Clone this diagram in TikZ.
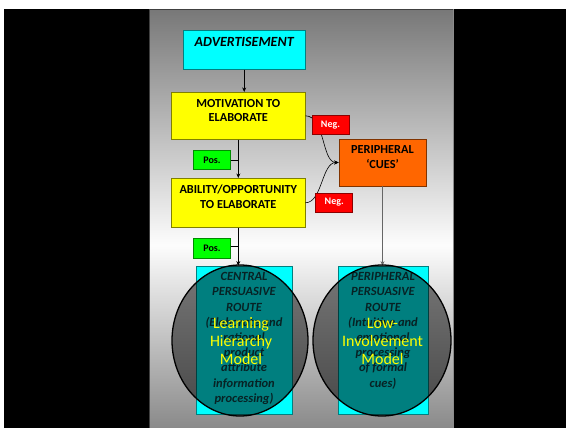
\documentclass[tikz,border=0pt]{standalone}
\usepackage{fontspec}
\setmainfont{Carlito}
\usetikzlibrary{arrows.meta,shapes.geometric}

\definecolor{paneltop}{gray}{0.47}
\definecolor{panelmid}{gray}{0.99}
\definecolor{panelbottom}{gray}{0.54}
\definecolor{aqua}{RGB}{0,255,255}
\definecolor{lemon}{RGB}{255,255,0}
\definecolor{cueorange}{RGB}{255,102,0}
\definecolor{stopred}{RGB}{255,0,0}
\definecolor{golime}{RGB}{0,255,0}
\definecolor{routeink}{RGB}{16,70,74}
\definecolor{modelyellow}{RGB}{255,255,0}

\tikzset{
  flowbox/.style={rectangle, draw=#1!50!black, fill=#1, line width=0.7pt, inner sep=0pt},
  boxtext/.style={inner sep=0pt, anchor=north, align=center,
    font=\fontsize{12.3}{14.7}\selectfont\bfseries},
  tagbox/.style={rectangle, draw=#1!55!black, fill=#1, line width=0.7pt, inner sep=0pt,
    minimum width=37pt, minimum height=19pt,
    font=\fontsize{10}{12}\selectfont\bfseries},
  link/.style={draw=black, line width=0.6pt},
  arrowlink/.style={link, -{Stealth[length=4.5pt,width=4pt]}},
  routetext/.style={inner sep=0pt, anchor=north, align=center, text=routeink,
    font=\fontsize{12.5}{15.2}\selectfont\bfseries\itshape},
  lens/.style={ellipse, draw=black, line width=1.3pt, fill=black, fill opacity=0.5,
    draw opacity=1, inner sep=0pt},
  modeltext/.style={text=modelyellow, align=center, inner sep=0pt,
    font=\fontsize{16}{18}\selectfont},
}

\begin{document}
\begin{tikzpicture}[x=1pt,y=-1pt]
\useasboundingbox (0,0) rectangle (566,428);

% page backdrop and dark surround
\fill[white] (0,0) rectangle (566,428);
\fill[black] (3.7,9) rectangle (566,428);

% slide panel with its vertical grey-white-grey gradient
\shade[top color=paneltop, bottom color=panelmid] (149.3,9.5) rectangle (453.5,245);
\shade[top color=panelmid, bottom color=panelbottom] (149.3,245) rectangle (453.5,428);
\draw[black!75, line width=1.2pt] (149.3,428) -- (149.3,9.5) -- (453.5,9.5);
\draw[black!45, line width=0.8pt] (453.5,9.5) -- (453.5,428);

% flow boxes
\node[flowbox=aqua, minimum width=121.7pt, minimum height=38.6pt] (adv) at (244.2,50) {};
\node[flowbox=lemon, minimum width=133.3pt, minimum height=47pt] (mot) at (238.3,115.8) {};
\node[flowbox=lemon, minimum width=133.3pt, minimum height=49pt] (abil) at (238.3,202.8) {};
\node[flowbox=cueorange, minimum width=87pt, minimum height=47pt] (cues) at (382.5,162.5) {};

\node[boxtext, font=\fontsize{14}{17}\selectfont\bfseries\itshape] (advtxt)
  at ([yshift=-7pt]adv.north) {ADVERTISEMENT};
\node[boxtext] (mottxt) at ([yshift=-7pt]mot.north) {MOTIVATION TO\\ELABORATE};
\node[boxtext] (abiltxt) at ([yshift=-6.7pt]abil.north) {ABILITY/OPPORTUNITY\\TO ELABORATE};
\node[boxtext] (cuestxt) at ([yshift=-7pt]cues.north) {PERIPHERAL\\‘CUES’};

% route boxes
\node[flowbox=aqua, minimum width=96pt, minimum height=148.5pt] (central) at (244,340.2) {};
\node[flowbox=aqua, minimum width=90pt, minimum height=148pt] (periph) at (383,340) {};
\node[routetext] (centraltxt) at ([yshift=-6.7pt]central.north)
  {CENTRAL\\PERSUASIVE\\ROUTE\\(Elaborate and\\rational\\product\\attribute\\information\\processing)};
\node[routetext] (periphtxt) at ([yshift=-6.7pt]periph.north)
  {PERIPHERAL\\PERSUASIVE\\ROUTE\\(Intuitive and\\emotional\\processing\\of formal\\cues)};

% connectors
\draw[arrowlink] (adv.south) -- (adv.south |- mot.north);
\draw[arrowlink] (mot.south) -- (abil.north);
\draw[arrowlink] (abil.south) -- (abil.south |- central.north);
\draw[arrowlink, draw=black!60] (cues.south) -- (cues.south |- periph.north);
\draw[arrowlink] (mot.east) .. controls +(20,0) and +(-17,0) .. (cues.west);
\draw[arrowlink] (abil.east) .. controls +(17,0) and +(-17,0) .. (cues.west);

% condition tags
\node[tagbox=stopred, text=white] (neg1) at (330.5,125.2) {Neg.};
\node[tagbox=stopred, text=white] (neg2) at (334.2,202.5) {Neg.};
\node[tagbox=golime] (pos1) at (212,160) {Pos.};
\node[tagbox=golime, minimum height=20pt] (pos2) at (212,248.3) {Pos.};
\draw[link] (pos1.east) -- (pos1.east -| mot.south);
\draw[link, line width=0.9pt] ([yshift=2pt]pos2.east) -- ([yshift=2pt]pos2.east -| abil.south);

% model overlays
\node[lens, minimum width=136pt, minimum height=151pt] (lensL) at (240,340.5) {};
\node[lens, minimum width=138pt, minimum height=151pt] (lensR) at (382,340.5) {};
\node[modeltext] (learn) at (241,341.4) {Learning\\Hierarchy\\Model};
\node[modeltext] (lowinv) at (382.5,341.3) {Low-\\Involvement\\Model};
\end{tikzpicture}
\end{document}
